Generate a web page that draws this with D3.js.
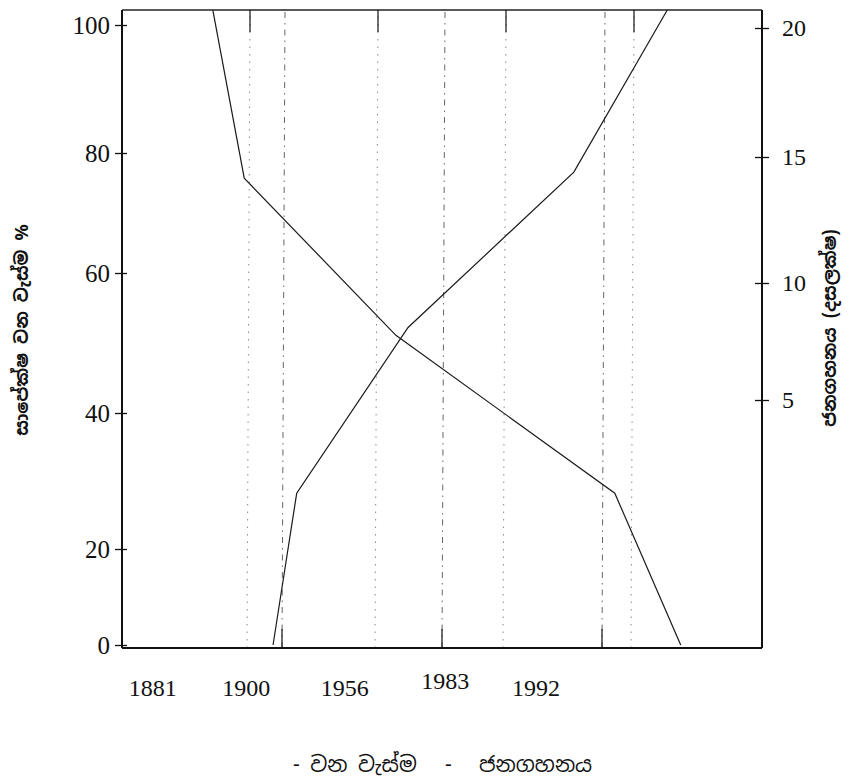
<!DOCTYPE html>
<html>
<head>
<meta charset="utf-8">
<script src="https://cdn.jsdelivr.net/npm/d3@7"></script>
<style>
    body { margin: 0; background: #fff; }
    .axis text { font-family: "Liberation Serif", "DejaVu Serif", serif; fill: #111; }
    .axis path, .axis line { stroke: #111; }
    .sinhala { font-family: "Noto Sans Sinhala", "Noto Sans", "DejaVu Sans", sans-serif; fill: #111; }
</style>
</head>
<body>
<div id="chart-area"></div>
<script>

// x positions are given in frame units: 0 = left axis, 100 = right axis
const forestX = [14.2, 19.1, 42.8, 77.0, 87.3];
const forestCover = [102.3, 75.8, 51.1, 28.2, 0];      // % (left axis)

const popX = [23.6, 27.3, 44.7, 70.6, 85.2];
const population = [0, 3.1, 8.1, 14.4, 20.7];          // millions (right axis)

const yearLabels = ["1881", "1900", "1956", "1983", "1992"];
const yearPos = [4.8, 19.4, 34.8, 50.5, 64.7];

const topTicks = [20, 40, 60, 80];
const bottomTicks = [25, 50, 75];
const leftTicks = [0, 20, 40, 60, 80, 100];
const rightTicks = [5, 10, 15, 20];

const leftTitle = "සාපේක්ෂ වන වැස්ම %";
const rightTitle = "ජනගහනය (දසලක්ෂ)";
const legendItems = ["වන වැස්ම", "ජනගහනය"];


class DualAxisChart {

    constructor(_parentElement) {
        this.parentElement = _parentElement;
        this.initVis();
    }

    initVis() {
        let vis = this;

        vis.margin = { top: 10, right: 92, bottom: 136, left: 122 };
        vis.width = 854 - vis.margin.left - vis.margin.right;
        vis.height = 784 - vis.margin.top - vis.margin.bottom;

        vis.root = d3.select("#" + vis.parentElement).append("svg")
            .attr("width", 854)
            .attr("height", 784);

        vis.svg = vis.root.append("g")
            .attr("transform", "translate(" + vis.margin.left + "," + vis.margin.top + ")");

        // Scales (the printed axes are uneven, so the y scales are piecewise)
        vis.x = d3.scaleLinear().domain([0, 100]).range([0, vis.width]);

        vis.y = d3.scaleLinear()
            .domain([0, 20, 40, 60, 80, 100])
            .range([635, 539, 403, 263, 143, 15]);

        vis.y2 = d3.scaleLinear()
            .domain([0, 5, 10, 15, 20])
            .range([635, 390, 273, 147, 18]);

        vis.wrangleData();
    }

    wrangleData() {
        let vis = this;
        vis.forest = forestX.map((d, i) => ({ x: d, v: forestCover[i] }));
        vis.pop = popX.map((d, i) => ({ x: d, v: population[i] }));
        vis.updateVis();
    }

    updateVis() {
        let vis = this;

        // vertical guide lines
        vis.svg.selectAll(".grid-top")
            .data(topTicks)
            .enter().append("line")
            .attr("class", "grid-top")
            .attr("x1", d => vis.x(d) - 3).attr("x2", d => vis.x(d))
            .attr("y1", vis.height).attr("y2", 0)
            .attr("stroke", "#8a8a8a")
            .attr("stroke-width", 1)
            .attr("stroke-dasharray", "1.5,6");

        vis.svg.selectAll(".grid-bottom")
            .data(bottomTicks)
            .enter().append("line")
            .attr("class", "grid-bottom")
            .attr("x1", d => vis.x(d)).attr("x2", d => vis.x(d) + 3)
            .attr("y1", vis.height).attr("y2", 0)
            .attr("stroke", "#666")
            .attr("stroke-width", 1)
            .attr("stroke-dasharray", "6,5,1.5,5");

        // short ticks on top and bottom frame
        vis.svg.selectAll(".tick-top")
            .data(topTicks)
            .enter().append("line")
            .attr("x1", d => vis.x(d)).attr("x2", d => vis.x(d))
            .attr("y1", 0).attr("y2", 22)
            .attr("stroke", "#222").attr("stroke-width", 1.3);

        vis.svg.selectAll(".tick-bottom")
            .data(bottomTicks)
            .enter().append("line")
            .attr("x1", d => vis.x(d)).attr("x2", d => vis.x(d))
            .attr("y1", vis.height).attr("y2", vis.height - 19)
            .attr("stroke", "#222").attr("stroke-width", 1.3);

        // frame top and bottom
        vis.svg.append("line")
            .attr("x1", 0).attr("x2", vis.width)
            .attr("y1", 0).attr("y2", 0)
            .attr("stroke", "#222").attr("stroke-width", 1.5);

        vis.svg.append("line")
            .attr("x1", 0).attr("x2", vis.width)
            .attr("y1", vis.height).attr("y2", vis.height)
            .attr("stroke", "#111").attr("stroke-width", 1.8);

        // Axes
        vis.yAxis = d3.axisLeft(vis.y)
            .tickValues(leftTicks)
            .tickSizeInner(7)
            .tickSizeOuter(0)
            .tickPadding(5);

        vis.y2Axis = d3.axisRight(vis.y2)
            .tickValues(rightTicks)
            .tickSizeInner(7)
            .tickSizeOuter(0)
            .tickPadding(13);

        let yg = vis.svg.append("g").attr("class", "axis")
            .call(vis.yAxis);
        yg.select(".domain").attr("d", "M0,0V" + vis.height).attr("stroke-width", 2);
        yg.selectAll(".tick line").attr("x1", 5).attr("stroke-width", 1.3);
        yg.selectAll("text").style("font-size", "25px");

        let y2g = vis.svg.append("g").attr("class", "axis")
            .attr("transform", "translate(" + vis.width + ",0)")
            .call(vis.y2Axis);
        y2g.select(".domain").attr("d", "M0,0V" + vis.height).attr("stroke-width", 2);
        y2g.selectAll(".tick line").attr("x1", -7).attr("stroke-width", 1.3);
        y2g.selectAll("text").style("font-size", "24px");

        // year labels under the frame
        vis.svg.selectAll(".year")
            .data(yearLabels)
            .enter().append("text")
            .attr("class", "year")
            .attr("x", (d, i) => vis.x(yearPos[i]))
            .attr("y", (d, i) => vis.height + (d === "1983" ? 41 : 48))
            .attr("text-anchor", "middle")
            .style("font-family", "'Liberation Serif', serif")
            .style("font-size", "24px")
            .style("fill", "#111")
            .text(d => d);

        // the two lines
        let forestLine = d3.line()
            .x(d => vis.x(d.x))
            .y(d => vis.y(d.v));

        let popLine = d3.line()
            .x(d => vis.x(d.x))
            .y(d => vis.y2(d.v));

        vis.svg.append("path")
            .datum(vis.forest)
            .attr("d", forestLine)
            .attr("fill", "none")
            .attr("stroke", "#1a1a1a")
            .attr("stroke-width", 1.2);

        vis.svg.append("path")
            .datum(vis.pop)
            .attr("d", popLine)
            .attr("fill", "none")
            .attr("stroke", "#1a1a1a")
            .attr("stroke-width", 1.2);

        // axis titles
        vis.root.append("text")
            .attr("class", "sinhala")
            .attr("transform", "translate(28,330) rotate(-90)")
            .attr("text-anchor", "middle")
            .style("font-size", "18px")
            .style("font-weight", "bold")
            .text(leftTitle);

        vis.root.append("text")
            .attr("class", "sinhala")
            .attr("transform", "translate(836,328) rotate(-90)")
            .attr("text-anchor", "middle")
            .style("font-size", "18px")
            .style("font-weight", "bold")
            .text(rightTitle);

        // legend
        let legend = vis.root.append("g")
            .attr("transform", "translate(293,772)");

        legend.append("text")
            .attr("class", "sinhala")
            .attr("x", 0)
            .style("font-size", "21px")
            .text("- " + legendItems[0]);

        legend.append("text")
            .attr("class", "sinhala")
            .attr("x", 152)
            .style("font-size", "21px")
            .text("-");

        legend.append("text")
            .attr("class", "sinhala")
            .attr("x", 186)
            .style("font-size", "21px")
            .text(legendItems[1]);
    }
}

let chart = new DualAxisChart("chart-area");

</script>
</body>
</html>
